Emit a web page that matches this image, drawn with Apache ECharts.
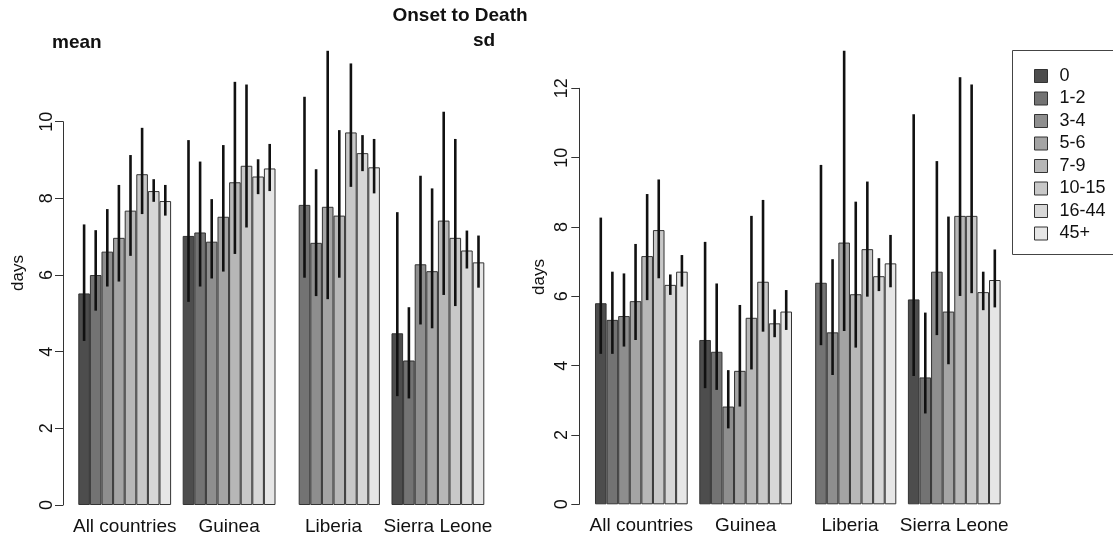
<!DOCTYPE html>
<html>
<head>
<meta charset="utf-8">
<script src="https://cdn.jsdelivr.net/npm/echarts@6/dist/echarts.min.js"></script>
<style>html,body{margin:0;padding:0;background:#fff;}#c{width:1113px;height:540px;}</style>
</head>
<body>
<div id="c"></div>
<script>
const categories = ['All countries', 'Guinea', 'Liberia', 'Sierra Leone'];
const ageGroups = ['0', '1-2', '3-4', '5-6', '7-9', '10-15', '16-44', '45+'];
const colors = ['#4d4d4d', '#737373', '#8e8e8e', '#a4a4a4', '#b7b7b7', '#c8c8c8', '#d7d7d7', '#e6e6e6'];

// mean (rows = age groups, columns = categories)
const meanValues = [
  [5.52, 7.02, null, 4.48],
  [6.00, 7.11, 7.83, 3.77],
  [6.61, 6.87, 6.84, 6.28],
  [6.97, 7.52, 7.78, 6.10],
  [7.68, 8.42, 7.55, 7.42],
  [8.63, 8.85, 9.72, 6.97],
  [8.19, 8.57, 9.18, 6.64],
  [7.93, 8.78, 8.81, 6.33]
];
const meanLow = [
  [4.28, 5.30, null, 2.84],
  [5.07, 5.70, 5.93, 2.78],
  [5.70, 5.91, 5.45, 4.71],
  [5.83, 6.09, 5.37, 4.61],
  [6.50, 6.55, 5.93, 5.48],
  [7.59, 7.24, 8.30, 5.19],
  [7.91, 8.11, 8.71, 6.17],
  [7.55, 8.19, 8.13, 5.67]
];
const meanHigh = [
  [7.32, 9.52, null, 7.64],
  [7.17, 8.96, 10.65, 5.16],
  [7.72, 7.98, 8.76, 8.59],
  [8.35, 9.39, 11.85, 8.26],
  [9.13, 11.04, 9.78, 10.26],
  [9.84, 10.97, 11.52, 9.55],
  [8.50, 9.02, 9.65, 7.16],
  [8.35, 9.42, 9.55, 7.03]
];
// sd
const sdValues = [
  [5.80, 4.74, null, 5.91],
  [5.32, 4.40, 6.39, 3.66],
  [5.43, 2.82, 4.96, 6.71],
  [5.86, 3.85, 7.55, 5.56],
  [7.16, 5.38, 6.06, 8.32],
  [7.91, 6.42, 7.36, 8.32],
  [6.33, 5.22, 6.58, 6.12],
  [6.71, 5.56, 6.95, 6.47]
];
const sdLow = [
  [4.34, 3.35, null, 3.70],
  [4.34, 3.30, 4.59, 2.62],
  [4.55, 2.19, 3.73, 4.88],
  [4.74, 2.82, 5.00, 4.04],
  [5.89, 3.89, 4.52, 6.01],
  [6.52, 4.98, 5.99, 6.09],
  [6.04, 4.82, 6.15, 5.60],
  [6.28, 5.03, 6.26, 5.68]
];
const sdHigh = [
  [8.27, 7.57, null, 11.25],
  [6.71, 6.37, 9.79, 5.53],
  [6.66, 3.87, 7.07, 9.90],
  [7.51, 5.75, 13.08, 8.30],
  [8.95, 8.32, 8.73, 12.32],
  [9.37, 8.78, 9.31, 12.11],
  [6.63, 5.62, 7.10, 6.71],
  [7.19, 6.18, 7.77, 7.35]
];

const FONT = '"Liberation Sans", Arial, Helvetica, sans-serif';

function errData(low, high) {
  const out = [];
  for (let g = 0; g < ageGroups.length; g++) {
    for (let c = 0; c < categories.length; c++) {
      if (low[g][c] == null || high[g][c] == null) continue;
      out.push([c, g, low[g][c], high[g][c]]);
    }
  }
  return out;
}

function renderErr(params, api) {
  const c = api.value(0), g = api.value(1);
  const bw = api.size([1, 0])[0] / 9;
  const cx = api.coord([c, 0])[0] + (g - 3.5) * bw;
  const y1 = api.coord([c, api.value(2)])[1];
  const y2 = api.coord([c, api.value(3)])[1];
  return {
    type: 'line',
    shape: { x1: cx, y1: y1, x2: cx, y2: y2 },
    style: { stroke: '#111', lineWidth: 2.6 }
  };
}

const series = [];
[meanValues, sdValues].forEach(function (vals, p) {
  ageGroups.forEach(function (name, g) {
    series.push({
      type: 'bar',
      name: name,
      xAxisIndex: p,
      yAxisIndex: p,
      data: vals[g],
      barGap: '0%',
      barCategoryGap: '11.11%',
      itemStyle: { color: colors[g], borderColor: '#333', borderWidth: 1 },
      emphasis: { disabled: true },
      z: 2
    });
  });
});
series.push({
  type: 'custom', xAxisIndex: 0, yAxisIndex: 0, clip: false, z: 5,
  renderItem: renderErr, data: errData(meanLow, meanHigh), silent: true
});
series.push({
  type: 'custom', xAxisIndex: 1, yAxisIndex: 1, clip: false, z: 5,
  renderItem: renderErr, data: errData(sdLow, sdHigh), silent: true
});

function xAx(idx) {
  return {
    type: 'category', gridIndex: idx, data: categories,
    axisLine: { show: false }, axisTick: { show: false },
    axisLabel: { fontSize: 19, fontFamily: FONT, color: '#111', margin: 12, interval: 0 }
  };
}
function yAx(idx, max, off, margin) {
  return {
    type: 'value', gridIndex: idx, min: 0, max: max, interval: 2, offset: off,
    axisLine: { show: true, lineStyle: { color: '#333', width: 1 } },
    axisTick: { show: true, length: 8, lineStyle: { color: '#333', width: 1 } },
    splitLine: { show: false },
    axisLabel: { rotate: 90, fontSize: 18, fontFamily: FONT, color: '#111', margin: margin }
  };
}

const chart = echarts.init(document.getElementById('c'), null, { renderer: 'canvas' });
chart.setOption({
  animation: false,
  backgroundColor: '#fff',
  grid: [
    { left: 72.5, width: 417.6, top: 121.7, bottom: 35 },
    { left: 589.2, width: 417.2, top: 88.3, bottom: 35.7 }
  ],
  xAxis: [xAx(0), xAx(1)],
  yAxis: [yAx(0, 10, 9.5, 7), yAx(1, 12, 9.9, 8)],
  legend: {
    orient: 'vertical', left: 1029, top: 62,
    data: ageGroups, icon: 'rect', itemWidth: 13, itemHeight: 13, itemGap: 4.5,
    itemStyle: { borderColor: '#333', borderWidth: 1 },
    textStyle: { fontSize: 18, fontFamily: FONT, color: '#111', padding: [0, 0, 0, 7], lineHeight: 16 },
    selectedMode: false
  },
  graphic: [
    { type: 'rect', shape: { x: 1012.5, y: 50.5, width: 140, height: 204 },
      style: { fill: 'none', stroke: '#444', lineWidth: 1 }, z: -1 },
    { type: 'text', x: 460, y: 16, style: { text: 'Onset to Death', font: 'bold 19px ' + FONT, fill: '#111', align: 'center', verticalAlign: 'middle' } },
    { type: 'text', x: 52, y: 43, style: { text: 'mean', font: 'bold 19px ' + FONT, fill: '#111', align: 'left', verticalAlign: 'middle' } },
    { type: 'text', x: 484, y: 41, style: { text: 'sd', font: 'bold 19px ' + FONT, fill: '#111', align: 'center', verticalAlign: 'middle' } },
    { type: 'text', x: 18, y: 273, rotation: Math.PI / 2, style: { text: 'days', font: '17px ' + FONT, fill: '#111', align: 'center', verticalAlign: 'middle' } },
    { type: 'text', x: 539, y: 277, rotation: Math.PI / 2, style: { text: 'days', font: '17px ' + FONT, fill: '#111', align: 'center', verticalAlign: 'middle' } }
  ],
  series: series
});
</script>
</body>
</html>
